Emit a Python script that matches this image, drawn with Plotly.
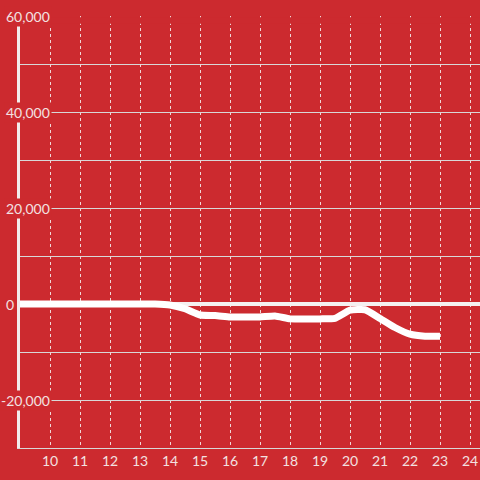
import plotly.graph_objects as go

# datos
hours = [9, 9.5, 10, 10.5, 11, 11.5, 12, 12.5, 13, 13.5, 14, 14.5, 15, 15.5, 16,
         16.5, 17, 17.5, 18, 18.5, 19, 19.5, 20, 20.5, 21, 21.5, 22, 22.5, 23]
values = [0, 0, 0, 0, 0, 0, 0, 0, 0, 0, -200, -1000, -2300, -2400, -2700,
          -2700, -2700, -2500, -3100, -3100, -3100, -3000, -1300, -1200, -3000, -4900, -6300, -6700, -6700]
x_ticks = [10, 11, 12, 13, 14, 15, 16, 17, 18, 19, 20, 21, 22, 23, 24]
y_labels = [60000, 40000, 20000, -20000]

BG = "#cc2a2f"
TXT = "#f3e1e1"

fig = go.Figure()
fig.add_trace(go.Scatter(
    x=hours, y=values,
    mode="lines",
    line=dict(color="white", width=7, shape="spline", smoothing=0.45),
    hoverinfo="skip",
))

# etiquetas del eje y con fondo rojo (tapan la línea del eje)
for v in y_labels:
    fig.add_annotation(
        x=32 / 460, xref="paper", y=v, yref="y",
        text=f"{v:,}", showarrow=False, xanchor="right", yanchor="middle",
        bgcolor=BG, borderpad=1,
        font=dict(family="Lato", size=14, color=TXT),
    )
fig.add_annotation(
    x=-4 / 460, xref="paper", y=0, yref="y",
    text="0", showarrow=False, xanchor="right", yanchor="middle",
    font=dict(family="Lato", size=14, color=TXT),
)

# franja superior sin rejilla vertical
fig.add_shape(type="rect", xref="paper", yref="y", x0=-0.01, x1=1, y0=58400, y1=59750,
              fillcolor=BG, line_width=0, layer="above")

fig.update_layout(
    width=480, height=480,
    paper_bgcolor=BG, plot_bgcolor=BG,
    showlegend=False,
    margin=dict(l=20, r=0, t=16, b=32),
    font=dict(family="Lato", size=14, color=TXT),
    xaxis=dict(
        range=[9, 9 + 460 / 30], tickvals=x_ticks,
        showgrid=True, gridcolor="#f0d8d8", griddash="dot", gridwidth=1,
        showline=True, linecolor="#d8d8d8", linewidth=1,
        zeroline=False, ticks="", tickfont=dict(color=TXT, size=14),
    ),
    yaxis=dict(
        range=[-30000, 60000], tickvals=y_labels + [0], showticklabels=False,
        showgrid=True, gridcolor="#d8d8d8", gridwidth=1,
        minor=dict(dtick=10000, showgrid=True, gridcolor="#d8d8d8", gridwidth=1),
        zeroline=True, zerolinecolor="#f5f0f0", zerolinewidth=4,
        showline=True, linecolor="#f2ecec", linewidth=3, ticks="",
    ),
)

fig.write_html("out.html", config={"displayModeBar": False},
               post_script="document.body.style.margin='0';")
